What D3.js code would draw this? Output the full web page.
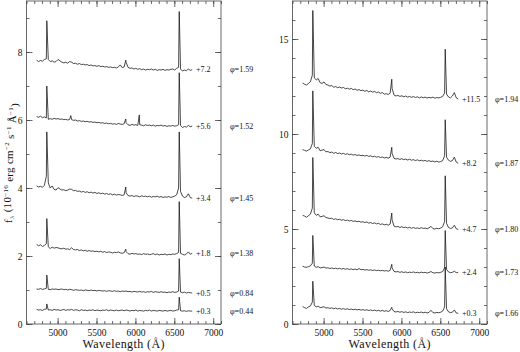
<!DOCTYPE html>
<html>
<head>
<meta charset="utf-8">
<script src="https://cdn.jsdelivr.net/npm/d3@7"></script>
<style>
  body { margin: 0; background: #fff; }
  svg text { font-family: "Liberation Serif", "DejaVu Serif", serif; fill: #111; }
</style>
</head>
<body>
<svg id="chart" width="520" height="352"></svg>
<script>
// sampling wavelengths of the continuum (Angstrom)
const waveGrid = d3.range(4730, 6731, 25);

const xMajor = [5000, 5500, 6000, 6500, 7000];
const xMinor = d3.range(4600, 7101, 100);

// ---- left panel ----
const leftYMajor = [0, 2, 4, 6, 8];
const leftOffsets = ["+7.2", "+5.6", "+3.4", "+1.8", "+0.5", "+0.3"];
const leftPhases = ["1.59", "1.52", "1.45", "1.38", "0.84", "0.44"];
const leftFlux = [
  [7.76, 7.72, 7.75, 7.73, 7.78,
   7.80, 7.78,
   7.72, 7.74, 7.70, 7.72,
   7.78, 7.74,
   7.70, 7.68, 7.70, 7.67, 7.72, 7.70,
   7.66, 7.67, 7.64, 7.66, 7.63, 7.64, 7.62, 7.63, 7.60, 7.62, 7.59, 7.60,
   7.58, 7.60, 7.57, 7.58, 7.56, 7.57, 7.55, 7.56, 7.54, 7.55, 7.53, 7.56, 7.62, 7.54, 7.56,
   7.70,
   7.55, 7.52, 7.53, 7.50, 7.52, 7.49, 7.51, 7.48, 7.50, 7.47, 7.49, 7.48, 7.50, 7.47, 7.49, 7.46, 7.48, 7.47, 7.49, 7.46, 7.48, 7.47, 7.49, 7.50, 7.47, 7.52,
   7.55, 7.50,
   7.44, 7.47, 7.45, 7.50, 7.46, 7.48],
  [6.10, 6.08, 6.11, 6.07, 6.09,
   6.06, 6.02,
   6.04, 6.02, 6.05, 6.03,
   6.04, 6.02,
   6.03, 6.01, 6.02, 6.00, 6.02, 6.01,
   5.99, 6.00, 5.97, 5.98, 5.96, 5.97, 5.95, 5.96, 5.94, 5.95, 5.93, 5.94,
   5.92, 5.93, 5.91, 5.92, 5.90, 5.91, 5.89, 5.90, 5.88, 5.89, 5.87, 5.90, 5.88, 5.87, 5.89,
   5.92,
   5.86, 5.84, 5.87, 5.85, 5.86, 5.84, 5.86, 5.85, 5.83, 5.86, 5.84, 5.85, 5.83, 5.85, 5.82, 5.84, 5.83, 5.85, 5.82, 5.84, 5.81, 5.83, 5.82, 5.84, 5.82, 5.83,
   5.86, 5.84,
   5.78, 5.81, 5.79, 5.84, 5.80, 5.82],
  [4.06, 4.03, 4.05, 4.02, 4.08,
   4.35, 4.15,
   4.00, 4.06, 3.96, 3.94,
   4.01, 3.97,
   3.94, 3.95, 3.92, 3.94, 3.97, 3.96,
   3.92, 3.93, 3.90, 3.91, 3.88, 3.90, 3.87, 3.89, 3.86, 3.88, 3.85, 3.87,
   3.84, 3.86, 3.83, 3.85, 3.82, 3.84, 3.81, 3.83, 3.80, 3.82, 3.79, 3.81, 3.80, 3.78, 3.80,
   3.86,
   3.78, 3.76, 3.78, 3.75, 3.77, 3.76, 3.74, 3.77, 3.75, 3.76, 3.74, 3.76, 3.73, 3.75, 3.74, 3.76, 3.73, 3.75, 3.72, 3.74, 3.73, 3.75, 3.72, 3.74, 3.76, 3.80,
   4.00, 3.90,
   3.76, 3.72, 3.74, 3.83, 3.72, 3.70],
  [2.34, 2.30, 2.33, 2.28, 2.31,
   2.36, 2.27,
   2.22, 2.26, 2.23, 2.25,
   2.24, 2.22,
   2.21, 2.23, 2.20, 2.21, 2.19, 2.24,
   2.19, 2.18, 2.19, 2.16, 2.18, 2.15, 2.17, 2.14, 2.16, 2.14, 2.15, 2.13,
   2.14, 2.12, 2.14, 2.11, 2.13, 2.10, 2.12, 2.11, 2.09, 2.11, 2.10, 2.12, 2.09, 2.08, 2.10,
   2.13,
   2.07, 2.05, 2.08, 2.06, 2.07, 2.05, 2.06, 2.04, 2.07, 2.05, 2.06, 2.04, 2.05, 2.07, 2.04, 2.06, 2.03, 2.05, 2.04, 2.06, 2.03, 2.05, 2.04, 2.06, 2.05, 2.07,
   2.10, 2.08,
   2.05, 2.03, 2.06, 2.12, 2.05, 2.08],
  [1.03, 1.02, 1.04, 1.02, 1.03,
   1.05, 1.02,
   1.01, 1.03, 1.02, 1.03,
   1.01, 1.02,
   1.03, 1.01, 1.02, 1.00, 1.02, 1.01,
   0.99, 1.01, 1.00, 0.99, 1.00, 0.98, 1.00, 0.99, 0.98, 1.00, 0.98, 0.99,
   0.97, 0.99, 0.98, 0.97, 0.98, 0.96, 0.98, 0.97, 0.96, 0.98, 0.96, 0.97, 0.95, 0.97, 0.96,
   0.97,
   0.95, 0.96, 0.94, 0.96, 0.95, 0.94, 0.96, 0.94, 0.95, 0.93, 0.95, 0.94, 0.96, 0.93, 0.95, 0.94, 0.93, 0.95, 0.93, 0.94, 0.92, 0.94, 0.93, 0.95, 0.93, 0.94,
   0.97, 0.94,
   0.92, 0.94, 0.91, 0.93, 0.92, 0.91],
  [0.43, 0.41, 0.42, 0.40, 0.43,
   0.44, 0.41,
   0.42, 0.40, 0.43, 0.41,
   0.42, 0.40,
   0.41, 0.43, 0.40, 0.42, 0.41, 0.43,
   0.40, 0.42, 0.41, 0.39, 0.42, 0.40, 0.41, 0.39, 0.41, 0.40, 0.42, 0.39,
   0.41, 0.40, 0.39, 0.41, 0.40, 0.42, 0.39, 0.41, 0.40, 0.39, 0.41, 0.39, 0.40, 0.41, 0.39,
   0.41,
   0.40, 0.38, 0.40, 0.39, 0.41, 0.38, 0.40, 0.39, 0.38, 0.40, 0.39, 0.41, 0.38, 0.40, 0.39, 0.38, 0.40, 0.39, 0.38, 0.40, 0.38, 0.39, 0.40, 0.38, 0.39, 0.41,
   0.42, 0.39,
   0.38, 0.39, 0.37, 0.39, 0.38, 0.38]
];
// emission line peaks [wavelength, flux]
const leftPeaks = [
  [[4861, 8.92], [5876, 7.76], [6563, 9.19]],
  [[4861, 7.00], [5169, 6.13], [5876, 6.03], [6050, 6.15], [6563, 7.39]],
  [[4861, 5.65], [5876, 4.03], [6563, 5.65]],
  [[4861, 3.10], [5876, 2.20], [6563, 3.60]],
  [[4861, 1.44], [6563, 1.92]],
  [[4861, 0.59], [6563, 0.79]]
];

// ---- right panel ----
const rightYMajor = [0, 5, 10, 15];
const rightOffsets = ["+11.5", "+8.2", "+4.7", "+2.4", "+0.3"];
const rightPhases = ["1.94", "1.87", "1.80", "1.73", "1.66"];
const rightFlux = [
  [12.68, 12.62, 12.58, 12.66, 12.75,
   13.10, 12.95,
   12.85, 12.92, 12.70, 12.66,
   12.74, 12.60,
   12.58, 12.52, 12.55, 12.46, 12.50, 12.44,
   12.47, 12.42, 12.45, 12.38, 12.41, 12.36, 12.40, 12.33, 12.37, 12.30, 12.34, 12.28,
   12.31, 12.25, 12.29, 12.22, 12.26, 12.20, 12.24, 12.17, 12.21, 12.14, 12.18, 12.10, 12.12, 12.08, 12.15,
   12.40,
   12.05, 12.00, 12.03, 11.98, 12.01, 11.96, 12.00, 11.94, 11.98, 11.93, 11.97, 11.92, 11.96, 11.90, 11.95, 11.91, 11.94, 11.89, 11.93, 11.90, 11.94, 11.88, 11.92, 11.90, 11.93, 11.98,
   12.15, 12.10,
   11.95, 11.90, 12.00, 12.18, 11.90, 11.84],
  [9.18, 9.14, 9.10, 9.16, 9.22,
   9.50, 9.35,
   9.25, 9.30, 9.12, 9.15,
   9.18, 9.06,
   9.08, 9.02, 9.05, 8.98, 9.03, 8.97,
   9.00, 8.95, 8.98, 8.93, 8.96, 8.91, 8.94, 8.89, 8.92, 8.87, 8.90, 8.86,
   8.88, 8.84, 8.87, 8.82, 8.85, 8.80, 8.83, 8.78, 8.81, 8.76, 8.79, 8.74, 8.77, 8.73, 8.78,
   8.98,
   8.72, 8.68, 8.71, 8.66, 8.70, 8.65, 8.68, 8.63, 8.67, 8.62, 8.65, 8.60, 8.64, 8.59, 8.62, 8.58, 8.61, 8.56, 8.60, 8.55, 8.58, 8.53, 8.57, 8.52, 8.55, 8.60,
   8.85, 8.78,
   8.62, 8.56, 8.60, 8.78, 8.52, 8.46],
  [5.72, 5.68, 5.62, 5.70, 5.78,
   6.10, 5.85,
   5.72, 5.78, 5.64, 5.66,
   5.70, 5.60,
   5.58, 5.55, 5.57, 5.50, 5.54, 5.49,
   5.51, 5.46, 5.49, 5.44, 5.47, 5.42, 5.45, 5.40, 5.43, 5.38, 5.41, 5.36,
   5.38, 5.34, 5.37, 5.31, 5.34, 5.29, 5.32, 5.27, 5.30, 5.24, 5.27, 5.22, 5.25, 5.20, 5.26,
   5.48,
   5.15, 5.11, 5.14, 5.08, 5.12, 5.07, 5.10, 5.05, 5.09, 5.04, 5.08, 5.03, 5.06, 5.02, 5.07, 5.03, 5.05, 5.01, 5.06, 5.14, 5.02, 5.00, 5.04, 5.01, 5.05, 5.12,
   5.40, 5.30,
   5.08, 5.03, 5.06, 5.20, 5.01, 4.98],
  [3.04, 3.00, 2.98, 3.02, 3.06,
   3.20, 3.05,
   2.98, 3.02, 2.95, 2.97,
   3.00, 2.94,
   2.96, 2.92, 2.95, 2.91, 2.94, 2.90,
   2.93, 2.89, 2.92, 2.88, 2.91, 2.87, 2.90, 2.86, 2.89, 2.85, 2.92, 2.86,
   2.87, 2.84, 2.86, 2.83, 2.85, 2.82, 2.84, 2.81, 2.83, 2.80, 2.82, 2.79, 2.81, 2.78, 2.82,
   2.95,
   2.77, 2.74, 2.76, 2.72, 2.75, 2.71, 2.74, 2.70, 2.73, 2.71, 2.74, 2.70, 2.72, 2.69, 2.73, 2.70, 2.72, 2.68, 2.71, 2.76, 2.70, 2.68, 2.71, 2.69, 2.72, 2.76,
   2.95, 2.88,
   2.74, 2.70, 2.72, 2.78, 2.70, 2.72],
  [0.92, 0.86, 0.82, 0.90, 0.95,
   1.15, 0.98,
   0.90, 0.94, 0.86, 0.88,
   0.91, 0.84,
   0.86, 0.82, 0.85, 0.80, 0.84, 0.79,
   0.82, 0.78, 0.81, 0.77, 0.80, 0.76, 0.79, 0.75, 0.78, 0.74, 0.77, 0.73,
   0.76, 0.72, 0.75, 0.71, 0.74, 0.70, 0.73, 0.69, 0.72, 0.68, 0.71, 0.67, 0.70, 0.66, 0.71,
   0.80,
   0.66, 0.63, 0.66, 0.62, 0.65, 0.61, 0.64, 0.60, 0.63, 0.61, 0.64, 0.59, 0.62, 0.60, 0.63, 0.59, 0.62, 0.58, 0.61, 0.72, 0.60, 0.58, 0.61, 0.59, 0.62, 0.68,
   0.90, 0.80,
   0.64, 0.60, 0.62, 0.74, 0.58, 0.56]
];
const rightPeaks = [
  [[4861, 16.50], [5876, 12.88], [6563, 14.46]],
  [[4861, 12.27], [5876, 9.30], [6563, 10.75]],
  [[4861, 8.76], [5876, 5.84], [6563, 7.80]],
  [[4861, 4.66], [5876, 3.14], [6563, 4.92]],
  [[4861, 2.25], [5876, 0.88], [6563, 3.00]]
];

const svg = d3.select("#chart");

function drawPanel(cfg) {
    const x = d3.scaleLinear().domain([4600, 7100]).range([cfg.left, cfg.right]);
    const y = d3.scaleLinear().domain([0, cfg.yMax]).range([324, 1]);
    const g = svg.append("g");

    // minor ticks, all four sides, pointing inward
    g.append("g").attr("transform", "translate(0,324)")
        .call(d3.axisBottom(x).tickValues(xMinor).tickSize(-3).tickFormat(""));
    g.append("g").attr("transform", "translate(0,1)")
        .call(d3.axisTop(x).tickValues(xMinor).tickSize(-3).tickFormat(""));
    g.append("g").attr("transform", `translate(${cfg.left},0)`)
        .call(d3.axisLeft(y).tickValues(d3.range(0, cfg.yMax, 1)).tickSize(-3).tickFormat(""));
    g.append("g").attr("transform", `translate(${cfg.right},0)`)
        .call(d3.axisRight(y).tickValues(d3.range(0, cfg.yMax, 1)).tickSize(-3).tickFormat(""));

    // major ticks
    g.append("g").attr("transform", "translate(0,324)")
        .call(d3.axisBottom(x).tickValues(xMajor).tickSize(-6).tickPadding(5).tickFormat(d3.format("d")));
    g.append("g").attr("transform", "translate(0,1)")
        .call(d3.axisTop(x).tickValues(xMajor).tickSize(-6).tickFormat(""));
    g.append("g").attr("transform", `translate(${cfg.left},0)`)
        .call(d3.axisLeft(y).tickValues(cfg.yMajor).tickSize(-6).tickPadding(4).tickFormat(d3.format("d")));
    g.append("g").attr("transform", `translate(${cfg.right},0)`)
        .call(d3.axisRight(y).tickValues(cfg.yMajor).tickSize(-6).tickFormat(""));

    g.selectAll(".domain").remove();
    g.selectAll(".tick line").attr("stroke", "#444").attr("stroke-width", 0.8);
    g.selectAll(".tick text").style("font-size", "9.5px").attr("fill", "#111");

    g.append("rect")
        .attr("x", cfg.left).attr("y", 1)
        .attr("width", cfg.right - cfg.left).attr("height", 323)
        .attr("fill", "none").attr("stroke", "#444").attr("stroke-width", 0.8);

    const line = d3.line().x(d => x(d[0])).y(d => y(d[1]));

    cfg.flux.forEach((flux, i) => {
        if (flux.length !== waveGrid.length) throw new Error("bad length " + cfg.name + " " + i + ": " + flux.length);
        const pts = waveGrid.map((w, j) => [w, flux[j]])
            .concat(cfg.peaks[i])
            .sort((a, b) => a[0] - b[0]);

        g.append("path")
            .datum(pts)
            .attr("d", line)
            .attr("fill", "none")
            .attr("stroke", "#1a1a1a")
            .attr("stroke-width", 0.8)
            .attr("stroke-linejoin", "round");

        const ly = y(flux[flux.length - 1]);
        g.append("text")
            .attr("x", cfg.offsetX).attr("y", ly).attr("dy", "0.35em")
            .style("font-size", "8px")
            .text(cfg.offsets[i]);
        g.append("text")
            .attr("x", cfg.phaseX).attr("y", ly).attr("dy", "0.35em")
            .style("font-size", "8px")
            .text("φ=" + cfg.phases[i]);
    });

    g.append("text")
        .attr("x", (cfg.left + cfg.right) / 2).attr("y", 348)
        .attr("text-anchor", "middle")
        .style("font-size", "12px")
        .style("letter-spacing", "0.4px")
        .text("Wavelength (Å)");
}

drawPanel({ name: "left", left: 26.5, right: 221, yMax: 9.5, yMajor: leftYMajor,
    flux: leftFlux, peaks: leftPeaks, offsets: leftOffsets, phases: leftPhases,
    offsetX: 196, phaseX: 230 });
drawPanel({ name: "right", left: 292.5, right: 487, yMax: 17, yMajor: rightYMajor,
    flux: rightFlux, peaks: rightPeaks, offsets: rightOffsets, phases: rightPhases,
    offsetX: 462, phaseX: 495 });

// y axis label
const yLab = svg.append("text")
    .attr("transform", "translate(12,163) rotate(-90)")
    .attr("text-anchor", "middle")
    .style("font-size", "11px")
    .style("letter-spacing", "0.3px");
yLab.append("tspan").text("f");
yLab.append("tspan").attr("dy", "0.3em").style("font-size", "7px").text("λ");
yLab.append("tspan").attr("dy", "-0.3em").text(" (10");
yLab.append("tspan").attr("dy", "-0.45em").style("font-size", "7px").text("−16");
yLab.append("tspan").attr("dy", "0.45em").text(" erg cm");
yLab.append("tspan").attr("dy", "-0.45em").style("font-size", "7px").text("−2");
yLab.append("tspan").attr("dy", "0.45em").text(" s");
yLab.append("tspan").attr("dy", "-0.45em").style("font-size", "7px").text("−1");
yLab.append("tspan").attr("dy", "0.45em").text(" Å");
yLab.append("tspan").attr("dy", "-0.45em").style("font-size", "7px").text("−1");
yLab.append("tspan").attr("dy", "0.45em").text(")");
</script>
</body>
</html>
